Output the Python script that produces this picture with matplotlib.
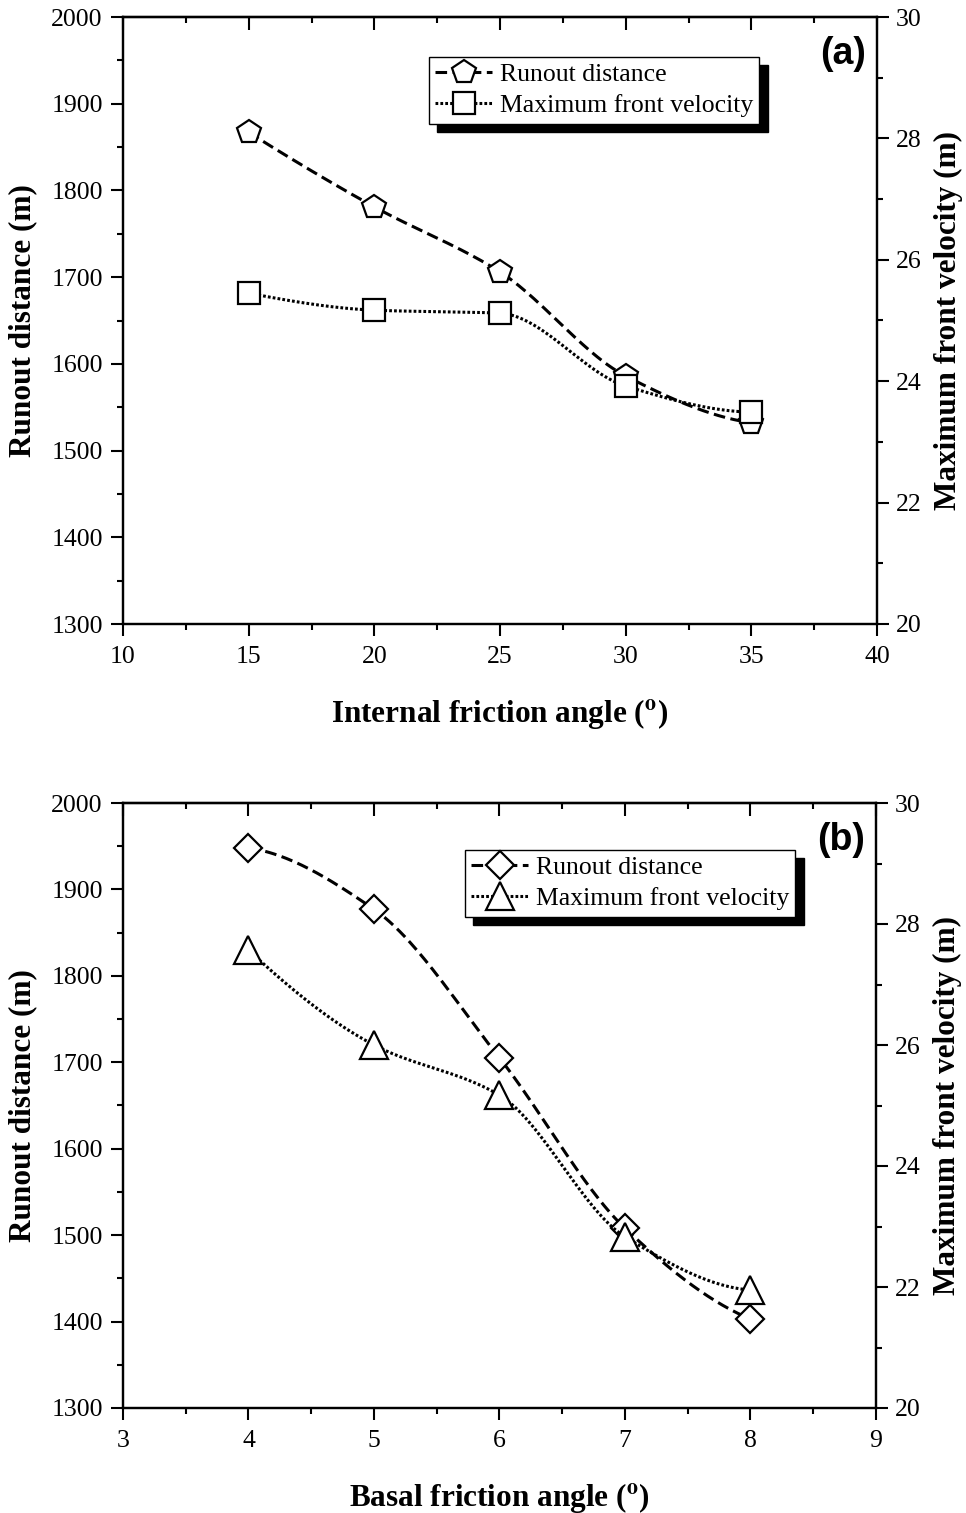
import numpy as np
import matplotlib
matplotlib.use("Agg")
import matplotlib.pyplot as plt
from matplotlib.ticker import MultipleLocator
from matplotlib.lines import Line2D

# ---------------- data ----------------
internal_angle = [15, 20, 25, 30, 35]
runout_a = [1867, 1781, 1706, 1586, 1532]
velocity_a = [25.45, 25.17, 25.12, 23.92, 23.49]

basal_angle = [4, 5, 6, 7, 8]
runout_b = [1948, 1877, 1705, 1508, 1403]
velocity_b = [27.57, 26.0, 25.17, 22.83, 21.95]

label_run = "Runout distance"
label_vel = "Maximum front velocity"
ylabel_left = "Runout distance (m)"
ylabel_right = "Maximum front velocity (m)"
xlabel_a = r"Internal friction angle ($^{\mathbf{o}}$)"
xlabel_b = r"Basal friction angle ($^{\mathbf{o}}$)"

plt.rcParams['font.family'] = ['Liberation Serif', 'DejaVu Serif']
plt.rcParams['mathtext.fontset'] = 'stix'


def pchip_curve(x, y, n=200):
    """Monotone piecewise cubic (PCHIP) curve through the given points."""
    x = np.asarray(x, float); y = np.asarray(y, float)
    h = np.diff(x)
    delta = np.diff(y) / h
    N = len(x)
    d = np.zeros(N)
    for k in range(1, N - 1):
        if delta[k - 1] * delta[k] <= 0:
            d[k] = 0
        else:
            w1 = 2 * h[k] + h[k - 1]
            w2 = h[k] + 2 * h[k - 1]
            d[k] = (w1 + w2) / (w1 / delta[k - 1] + w2 / delta[k])

    def end(h0, h1, d0, d1):
        dd = ((2 * h0 + h1) * d0 - h0 * d1) / (h0 + h1)
        if np.sign(dd) != np.sign(d0):
            dd = 0
        elif np.sign(d0) != np.sign(d1) and abs(dd) > abs(3 * d0):
            dd = 3 * d0
        return dd
    d[0] = end(h[0], h[1], delta[0], delta[1])
    d[-1] = end(h[-1], h[-2], delta[-1], delta[-2])
    xs = np.linspace(x[0], x[-1], n)
    ys = np.empty_like(xs)
    for j, xv in enumerate(xs):
        i = min(np.searchsorted(x, xv, side='right') - 1, N - 2)
        t = (xv - x[i]) / h[i]
        h00 = 2 * t ** 3 - 3 * t ** 2 + 1
        h10 = t ** 3 - 2 * t ** 2 + t
        h01 = -2 * t ** 3 + 3 * t ** 2
        h11 = t ** 3 - t ** 2
        ys[j] = h00 * y[i] + h10 * h[i] * d[i] + h01 * y[i + 1] + h11 * h[i] * d[i + 1]
    return xs, ys


W, H = 966, 1513
fig = plt.figure(figsize=(W / 100, H / 100), dpi=100)

TICK_FS = 18.5
LAB_FS = 22.5
LEG_FS = 18.5


def make_panel(rect, xs, run, vel, xlim, xmaj, xmin, mk_run, ms_run, mk_vel, ms_vel,
               xlabel, tag, leg_xy):
    ax = fig.add_axes(rect)
    ax2 = ax.twinx()
    dash = (0, (3.8, 1.8))
    dot = (0, (0.9, 0.7))
    sx, sy = pchip_curve(xs, run)
    ax.plot(sx, sy, color='black', lw=2.2, linestyle=dash, zorder=2)
    ax.plot(xs, run, linestyle='none', marker=mk_run, ms=ms_run, mfc='white',
            mec='black', mew=1.6, zorder=3)
    sx2, sy2 = pchip_curve(xs, vel)
    ax2.plot(sx2, sy2, color='black', lw=2.2, linestyle=dot, zorder=2)
    ax2.plot(xs, vel, linestyle='none', marker=mk_vel, ms=ms_vel, mfc='white',
             mec='black', mew=1.6, zorder=3)

    ax.set_xlim(*xlim)
    ax.set_ylim(1300, 2000)
    ax2.set_ylim(20, 30)
    ax.xaxis.set_major_locator(MultipleLocator(xmaj))
    ax.xaxis.set_minor_locator(MultipleLocator(xmin))
    ax.yaxis.set_major_locator(MultipleLocator(100))
    ax.yaxis.set_minor_locator(MultipleLocator(50))
    ax2.yaxis.set_major_locator(MultipleLocator(2))
    ax2.yaxis.set_minor_locator(MultipleLocator(1))

    for a in (ax, ax2):
        for s in a.spines.values():
            s.set_linewidth(1.6)
    ax.tick_params(axis='y', which='major', direction='out', length=8.5, width=1.5,
                   labelsize=TICK_FS, pad=6, left=True, right=False)
    ax.tick_params(axis='y', which='minor', direction='out', length=4.5, width=1.5,
                   left=True, right=False)
    ax.tick_params(axis='x', which='major', direction='out', length=8.5, width=1.5,
                   labelsize=TICK_FS, pad=7, bottom=True, top=False)
    ax.tick_params(axis='x', which='minor', direction='out', length=4.5, width=1.5,
                   bottom=True, top=False)
    ax2.tick_params(axis='y', which='major', direction='out', length=8.5, width=1.5,
                    labelsize=TICK_FS, pad=5)
    ax2.tick_params(axis='y', which='minor', direction='out', length=4.5, width=1.5)

    # top axis with inward ticks, no labels
    sec = ax.secondary_xaxis('top')
    sec.xaxis.set_major_locator(MultipleLocator(xmaj))
    sec.xaxis.set_minor_locator(MultipleLocator(xmin))
    sec.tick_params(axis='x', which='major', direction='in', length=9, width=1.5,
                    labeltop=False)
    sec.tick_params(axis='x', which='minor', direction='in', length=4.5, width=1.5)
    sec.spines['top'].set_linewidth(1.6)

    ax.set_xlabel(xlabel, fontsize=LAB_FS, fontweight='bold', labelpad=21)
    ax.set_ylabel(ylabel_left, fontsize=LAB_FS, fontweight='bold', labelpad=10)
    ax2.set_ylabel(ylabel_right, fontsize=LAB_FS, fontweight='bold', labelpad=9)

    ax2.text(0.985, 0.968, tag, transform=ax.transAxes, ha='right', va='top',
             fontsize=27, fontweight='bold', family=['Liberation Sans', 'DejaVu Sans'])

    h1 = Line2D([], [], color='black', lw=2.2, linestyle=dash, marker=mk_run,
                ms=ms_run, mfc='white', mec='black', mew=1.6)
    h2 = Line2D([], [], color='black', lw=2.2, linestyle=dot, marker=mk_vel,
                ms=ms_vel, mfc='white', mec='black', mew=1.6)
    leg = ax2.legend([h1, h2], [label_run, label_vel], loc='upper left',
                     bbox_to_anchor=leg_xy, bbox_transform=ax.transAxes,
                     fontsize=LEG_FS, frameon=True, fancybox=False, framealpha=1,
                     edgecolor='black', borderpad=0.25, labelspacing=0.3,
                     handlelength=2.2, handletextpad=0.3, borderaxespad=0,
                     shadow={'ox': 6, 'oy': -6, 'color': 'black', 'alpha': 1})
    leg.get_frame().set_linewidth(1.0)
    leg.set_zorder(10)
    return ax, ax2


l = 123 / W
w = (877 - 123) / W
ax_a = make_panel([l, 1 - 624 / H, w, (624 - 17) / H], internal_angle, runout_a,
                  velocity_a, (10, 40), 5, 2.5, 'p', 18, 's', 15.5, xlabel_a, '(a)',
                  ((429 - 123) / 754, 1 - (57 - 17) / 607))
ax_b = make_panel([l, 1 - 1408 / H, (876 - 123) / W, (1408 - 803) / H], basal_angle,
                  runout_b, velocity_b, (3, 9), 1, 0.5, 'D', 14.5, '^', 20, xlabel_b,
                  '(b)', ((465 - 123) / 753, 1 - (850 - 803) / 605))

fig.savefig('out.png', dpi=100)
